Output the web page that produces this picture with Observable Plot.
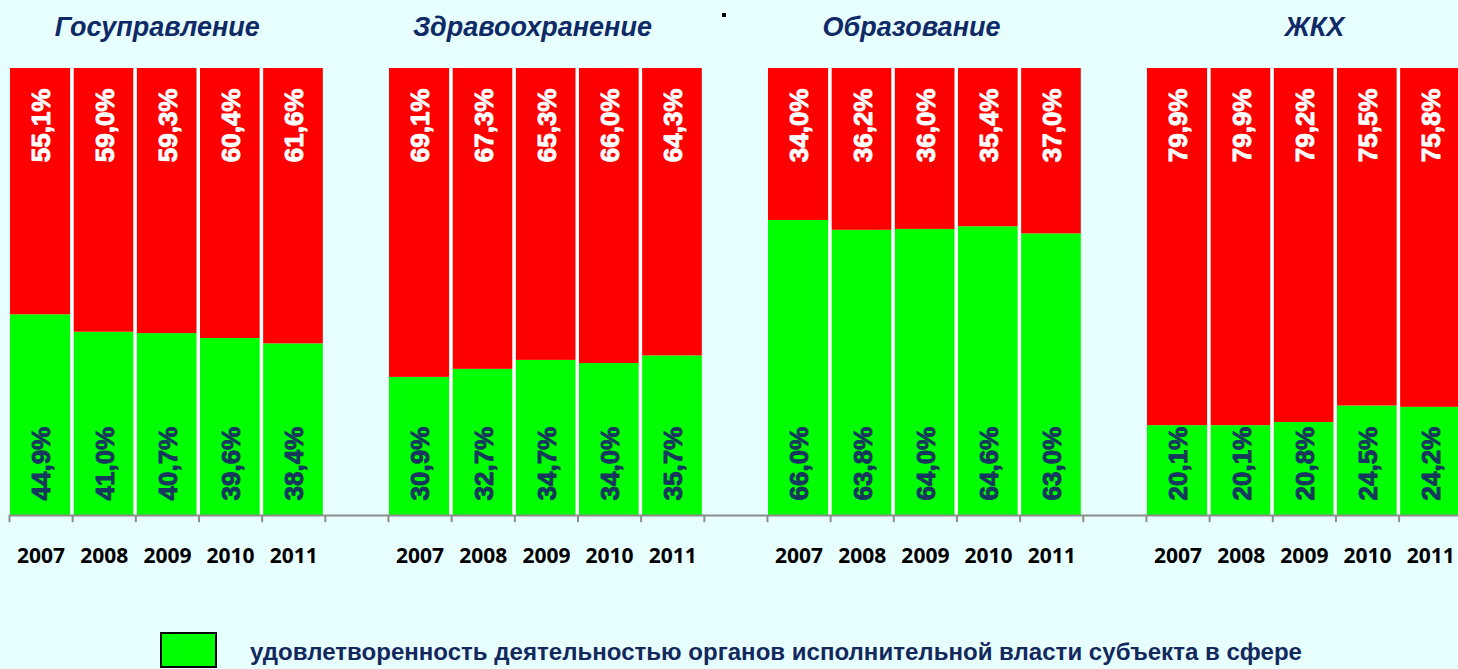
<!DOCTYPE html>
<html><head><meta charset="utf-8">
<script src="https://cdn.jsdelivr.net/npm/d3@7"></script>
<script src="https://cdn.jsdelivr.net/npm/@observablehq/plot@0.6"></script>
<style>
html,body{margin:0;padding:0;background:#e8ffff;overflow:hidden;width:1458px;height:669px;position:relative;}
#chart{position:absolute;left:0;top:0;}
#dot{position:absolute;left:722px;top:13px;width:4px;height:4px;background:#000;}
#lgbox{position:absolute;left:160px;top:632px;width:53px;height:32px;background:#00ff00;border:2px solid #000;}
#lgtext{position:absolute;left:250px;top:640px;font-family:"Liberation Sans",Arial,sans-serif;font-weight:bold;font-size:24px;color:#13295e;white-space:nowrap;transform-origin:0 0;line-height:1;}
</style></head><body>
<div id="chart"></div>
<div id="dot"></div>
<div id="lgbox"></div>
<div id="lgtext"><span id="lgspan">удовлетворенность деятельностью органов исполнительной власти субъекта в сфере</span></div>
<script>
const groups = ["Госуправление", "Здравоохранение", "Образование", "ЖКХ"];
const years = ["2007", "2008", "2009", "2010", "2011"];
const gosSat = [44.9, 41.0, 40.7, 39.6, 38.4];
const gosUnsat = [55.1, 59.0, 59.3, 60.4, 61.6];
const zdravSat = [30.9, 32.7, 34.7, 34.0, 35.7];
const zdravUnsat = [69.1, 67.3, 65.3, 66.0, 64.3];
const obrSat = [66.0, 63.8, 64.0, 64.6, 63.0];
const obrUnsat = [34.0, 36.2, 36.0, 35.4, 37.0];
const zhkhSat = [20.1, 20.1, 20.8, 24.5, 24.2];
const zhkhUnsat = [79.9, 79.9, 79.2, 75.5, 75.8];

const satAll = [gosSat, zdravSat, obrSat, zhkhSat];
const unsatAll = [gosUnsat, zdravUnsat, obrUnsat, zhkhUnsat];
const titleShift = [2.34, 2.28, 2.28, 2.66];

const rows = [];
groups.forEach((g, gi) => {
  years.forEach((y, i) => {
    const slot = gi * 6 + i;
    const s = satAll[gi][i], u = unsatAll[gi][i];
    rows.push({group: g, year: y, slot, series: "sat", y1: 0, y2: s, value: s});
    rows.push({group: g, year: y, slot, series: "unsat", y1: s, y2: s + u, value: u});
  });
});
const satRows = rows.filter(d => d.series === "sat");
const unsatRows = rows.filter(d => d.series === "unsat");
const fmt = v => v.toFixed(1).replace(".", ",") + "%";
const internal = [];
groups.forEach((g, gi) => { for (let i = 1; i < 5; i++) internal.push(gi * 6 + i); });
const boundaries = d3.range(0, 23);

const chart = Plot.plot({
  width: 1458, height: 610,
  marginLeft: 9, marginRight: 0, marginTop: 68, marginBottom: 95,
  style: {background: "transparent"},
  x: {domain: [0, 22.94], axis: null},
  y: {domain: [0, 100], axis: null},
  marks: [
    Plot.rect(rows, {x1: d => d.slot, x2: d => d.slot + 1, y1: "y1", y2: "y2",
      fill: d => d.series === "sat" ? "#00ff00" : "#ff0000", insetLeft: 1, insetRight: 2, clip: true}),
    Plot.ruleX(internal, {x: d => d, y1: 0, y2: 100, stroke: "white", strokeWidth: 3, dx: -0.5}),
    Plot.ruleY([0], {stroke: "#8c8c8c", strokeWidth: 2}),
    Plot.ruleX(boundaries, {x: d => d, y1: 0, y2: -1.6, stroke: "#8c8c8c", strokeWidth: 2}),
    Plot.text(satRows, {x: d => d.slot + 0.5, y: 0, text: d => fmt(d.value), rotate: -90,
      textAnchor: "start", dy: -15, dx: 1, fill: "#17375e", stroke: "#17375e", strokeWidth: 0.9,
      fontSize: 26, fontWeight: "bold", fontFamily: "Liberation Sans, Arial, sans-serif"}),
    Plot.text(unsatRows, {x: d => d.slot + 0.5, y: 100, text: d => fmt(d.value), rotate: -90,
      textAnchor: "end", dy: 20, dx: 1, fill: "#ffffff", stroke: "#ffffff", strokeWidth: 0.9,
      fontSize: 26, fontWeight: "bold", fontFamily: "Liberation Sans, Arial, sans-serif"}),
    Plot.text(satRows, {x: d => d.slot + 0.5, text: "year", frameAnchor: "bottom", dy: 47,
      fill: "#000", fontSize: 21, fontWeight: "bold", fontFamily: "Open Sans, sans-serif"}),
    Plot.text(groups, {x: (d, i) => i * 6 + titleShift[i], frameAnchor: "top", dy: -33,
      lineAnchor: "bottom", text: d => d, fill: "#0f2a66", fontSize: 27, fontWeight: "bold",
      fontStyle: "italic", fontFamily: "Liberation Sans, Arial, sans-serif"})
  ]
});
document.getElementById("chart").appendChild(chart);
const sp = document.getElementById("lgspan");
const w = sp.getBoundingClientRect().width;
document.getElementById("lgtext").style.transform = `scaleX(${1052 / w})`;
</script>
</body></html>
